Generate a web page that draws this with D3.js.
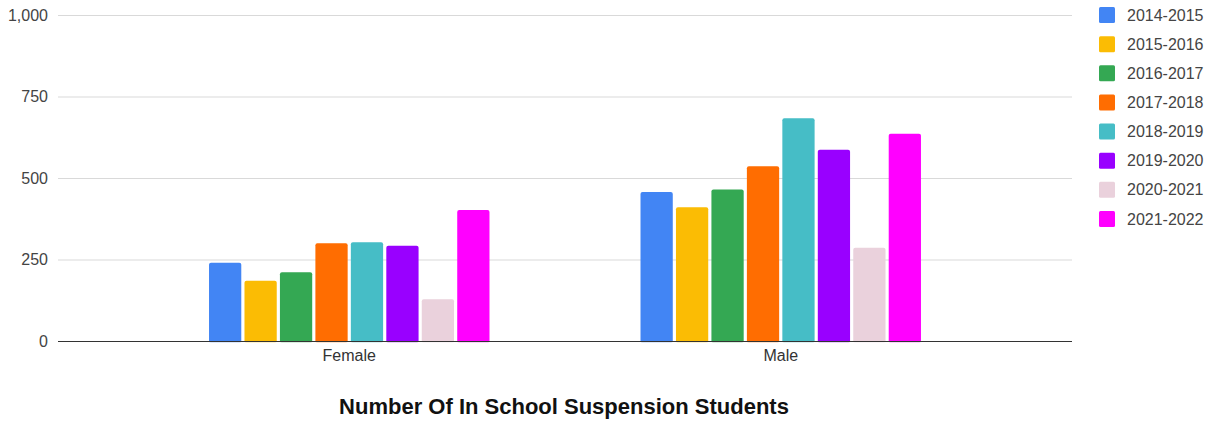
<!DOCTYPE html>
<html>
<head>
<meta charset="utf-8">
<script src="https://cdn.jsdelivr.net/npm/d3@7"></script>
<style>
  html, body { margin: 0; padding: 0; background: #fff; }
  svg { display: block; font-family: Arial, "Liberation Sans", sans-serif; }
</style>
</head>
<body>
<svg id="chart" width="1216" height="423"></svg>
<script>
// Categories (x axis groups)
const categories = ["Female", "Male"];

// School years (one bar per year in each group)
const years = ["2014-2015", "2015-2016", "2016-2017", "2017-2018",
               "2018-2019", "2019-2020", "2020-2021", "2021-2022"];

// In-school suspension counts per year, per category
const femaleValues = [240, 185, 211, 300, 303, 292, 128, 402];
const maleValues   = [457, 410, 465, 536, 683, 587, 286, 636];

// Y axis tick values
const yTicks = [0, 250, 500, 750, 1000];

const colors = ["#4285F4", "#FBBC04", "#34A853", "#FF6D01",
                "#46BDC6", "#9900FF", "#EAD1DC", "#FF00FF"];

const titleText = "Number Of In School Suspension Students";

const valuesByCategory = { Female: femaleValues, Male: maleValues };

const svg = d3.select("#chart");
const plot = { left: 58, right: 1072, top: 15, bottom: 341 };

const x0 = d3.scaleBand()
  .domain(categories)
  .range([plot.left, plot.right])
  .paddingInner(0.35)
  .paddingOuter(0.35);

const x1 = d3.scaleBand()
  .domain(years)
  .range([0, x0.bandwidth()])
  .paddingInner(0.09)
  .paddingOuter(0);

const y = d3.scaleLinear()
  .domain([0, 1000])
  .range([plot.bottom, plot.top]);

const color = d3.scaleOrdinal().domain(years).range(colors);

// Gridlines and y labels
const yAxis = d3.axisLeft(y)
  .tickValues(yTicks)
  .tickSize(-(plot.right - plot.left))
  .tickPadding(10)
  .tickFormat(d3.format(","));

const gy = svg.append("g")
  .attr("transform", `translate(${plot.left},0)`)
  .call(yAxis);
gy.select(".domain").remove();
gy.selectAll(".tick line").attr("stroke", "#d9d9d9").attr("stroke-width", 1);
gy.selectAll(".tick text")
  .attr("fill", "#444")
  .attr("font-size", 16)
  .attr("font-family", "Arial, 'Liberation Sans', sans-serif");

// Bars
const groups = svg.append("g").selectAll("g")
  .data(categories)
  .join("g")
  .attr("transform", d => `translate(${x0(d)},0)`);

groups.selectAll("rect")
  .data(c => years.map((yr, i) => ({ year: yr, value: valuesByCategory[c][i] })))
  .join("rect")
  .attr("x", d => x1(d.year))
  .attr("y", d => y(d.value))
  .attr("width", x1.bandwidth())
  .attr("height", d => y(0) - y(d.value) + 2)
  .attr("rx", 2)
  .attr("fill", d => color(d.year));

// Baseline + category labels
const xAxis = d3.axisBottom(x0).tickSize(0).tickPadding(9);
const gx = svg.append("g")
  .attr("transform", `translate(0,${plot.bottom})`)
  .call(xAxis);
gx.select(".domain")
  .attr("d", `M${plot.left},0.5H${plot.right}`)
  .attr("stroke", "#333")
  .attr("stroke-width", 1.2);
gx.selectAll(".tick text")
  .attr("fill", "#333")
  .attr("font-size", 16)
  .attr("font-family", "Arial, 'Liberation Sans', sans-serif");

// Cover bar bottoms below baseline
svg.append("rect")
  .attr("x", plot.left).attr("y", plot.bottom + 1.2)
  .attr("width", plot.right - plot.left).attr("height", 4)
  .attr("fill", "#fff");
gx.raise();

// Legend
const legend = svg.append("g").attr("transform", "translate(1099,0)");
const legendRow = d3.scalePoint().domain(years).range([15, 219]);
const items = legend.selectAll("g")
  .data(years)
  .join("g")
  .attr("transform", d => `translate(0,${legendRow(d)})`);
items.append("rect")
  .attr("x", 0).attr("y", -8)
  .attr("width", 16).attr("height", 16)
  .attr("rx", 1.5)
  .attr("fill", d => color(d));
items.append("text")
  .attr("x", 28).attr("y", 0)
  .attr("dy", "0.35em")
  .attr("fill", "#444")
  .attr("font-size", 16)
  .text(d => d);

// Title
svg.append("text")
  .attr("x", 564)
  .attr("y", 414)
  .attr("text-anchor", "middle")
  .attr("font-size", 22)
  .attr("font-weight", "bold")
  .attr("fill", "#111")
  .text(titleText);
</script>
</body>
</html>
